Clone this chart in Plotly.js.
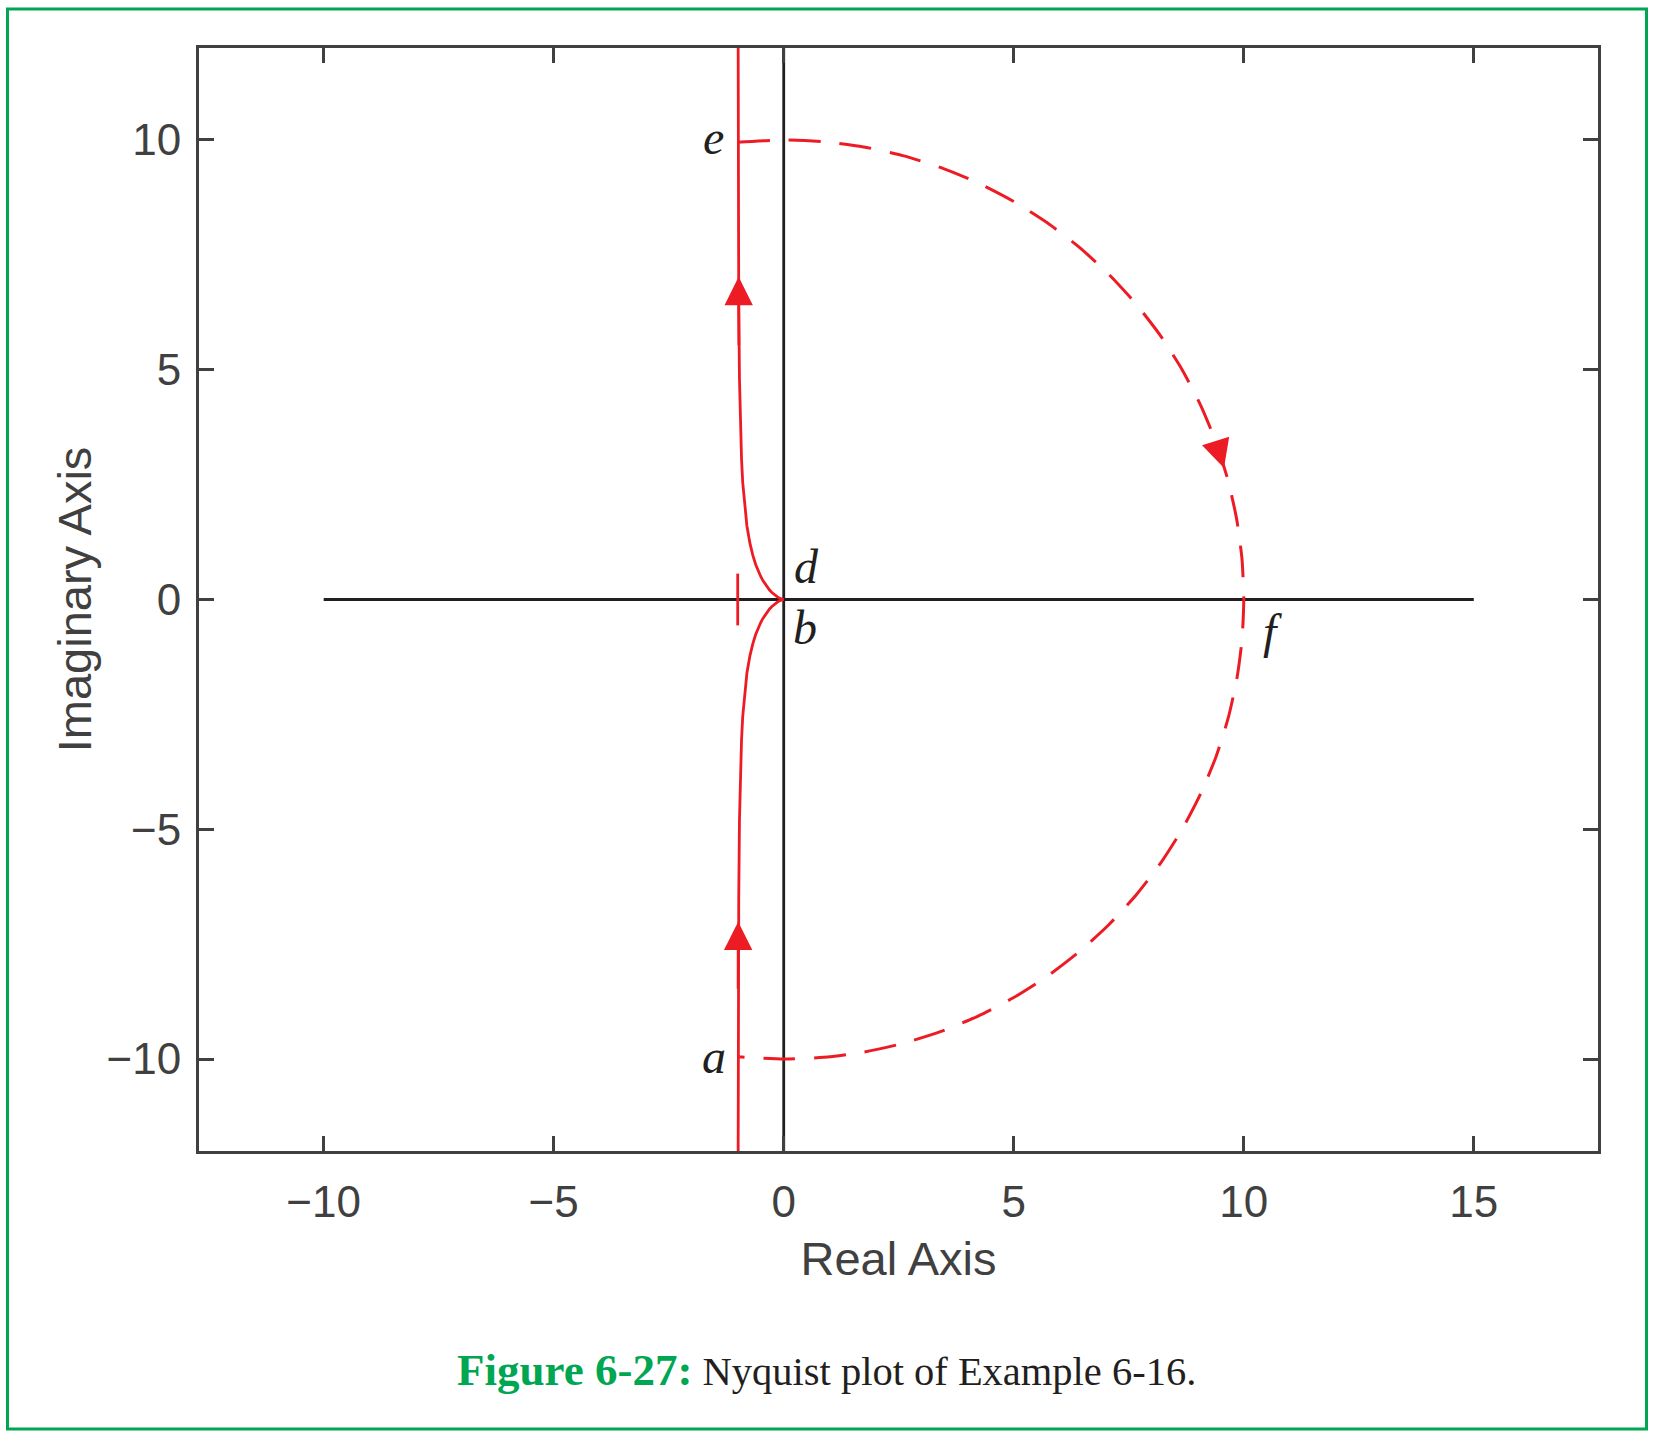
<!DOCTYPE html>
<html>
<head>
<meta charset="utf-8">
<script src="https://cdn.plot.ly/plotly-3.0.1.min.js"></script>
<style>
  html, body { margin: 0; padding: 0; background: #ffffff; }
  #chart { width: 1656px; height: 1437px; }
</style>
</head>
<body>
<div id="chart"></div>
<script>
// ---- data ----
// upper branch (negative frequencies): from d (origin) up towards e
const upperX = [0, -0.0385, -0.0588, -0.100, -0.138, -0.200, -0.257, -0.308, -0.372, -0.452, -0.500, -0.552, -0.610, -0.671, -0.735, -0.800, -0.862, -0.891, -0.917, -0.941, -0.962, -0.978, -0.986, -0.990, -0.994, -0.995];
const upperY = [0, 0.0077, 0.0147, 0.0333, 0.0552, 0.100, 0.151, 0.205, 0.286, 0.411, 0.500, 0.614, 0.762, 0.959, 1.225, 1.600, 2.155, 2.545, 3.058, 3.765, 4.808, 6.520, 8.215, 9.901, 12.42, 14.22];
// lower branch (positive frequencies): from a (bottom) to b (origin)
const lowerX = [0, -0.0385, -0.0588, -0.100, -0.138, -0.200, -0.257, -0.308, -0.372, -0.452, -0.500, -0.552, -0.610, -0.671, -0.735, -0.800, -0.862, -0.891, -0.917, -0.941, -0.962, -0.978, -0.986, -0.990, -0.994, -0.995];
const lowerY = [0, -0.0077, -0.0147, -0.0333, -0.0552, -0.100, -0.151, -0.205, -0.286, -0.411, -0.500, -0.614, -0.762, -0.959, -1.225, -1.600, -2.155, -2.545, -3.058, -3.765, -4.808, -6.520, -8.215, -9.901, -12.42, -14.22];
// large dashed arc e -> f -> a
const arcX = [-1.0, 0, 0.872, 1.736, 2.588, 3.420, 4.226, 5.000, 5.736, 6.428, 7.071, 7.660, 8.192, 8.660, 9.063, 9.397, 9.659, 9.848, 9.962, 10.0,
              9.962, 9.848, 9.659, 9.397, 9.063, 8.660, 8.192, 7.660, 7.071, 6.428, 5.736, 5.000, 4.226, 3.420, 2.588, 1.736, 0.872, 0, -1.0];
const arcY = [9.95, 10.0, 9.962, 9.848, 9.659, 9.397, 9.063, 8.660, 8.192, 7.660, 7.071, 6.428, 5.736, 5.000, 4.226, 3.420, 2.588, 1.736, 0.872, 0,
              -0.872, -1.736, -2.588, -3.420, -4.226, -5.000, -5.736, -6.428, -7.071, -7.660, -8.192, -8.660, -9.063, -9.397, -9.659, -9.848, -9.962, -10.0, -9.95];
// black reference axes drawn inside the plot
const realAxisX = [-10, 15];
const realAxisY = [0, 0];
const imagAxisX = [0, 0];
const imagAxisY = [-12, 12];
// critical point -1 + j0
const critX = [-1];
const critY = [0];
// direction arrows: tip and tail
const arrowTipX = [-0.98, -0.99, 9.57];
const arrowTipY = [7.02, -7.01, 2.86];
const arrowTailX = [-0.975, -0.992, 9.45];
const arrowTailY = [5.5, -8.5, 3.25];
// point labels
const labelText = ['e', 'd', 'b', 'f', 'a'];
const labelX = [-1.52, 0.5, 0.46, 10.63, -1.52];
const labelY = [10.05, 0.72, -0.62, -0.70, -9.95];
// ticks
const xTickVals = [-10, -5, 0, 5, 10, 15];
const xTickText = ['\u221210', '\u22125', '0', '5', '10', '15'];
const yTickVals = [-10, -5, 0, 5, 10];
const yTickText = ['\u221210', '\u22125', '0', '5', '10'];

// ---- styles ----
const RED = '#ed1c24';
const BLACK = '#231f20';
const AXC = '#404040';
const GREEN = '#00a651';

const traces = [
  {x: realAxisX, y: realAxisY, mode: 'lines', line: {color: BLACK, width: 2.8}, hoverinfo: 'skip'},
  {x: imagAxisX, y: imagAxisY, mode: 'lines', line: {color: BLACK, width: 2.8}, hoverinfo: 'skip'},
  {x: critX, y: critY, mode: 'markers', marker: {symbol: 'line-ns', size: 37, line: {color: RED, width: 2.8}}, hoverinfo: 'skip'},
  {x: arcX, y: arcY, mode: 'lines', line: {color: RED, width: 3, dash: '32px,19px', shape: 'spline', smoothing: 0.6}, hoverinfo: 'skip'},
  {x: upperX, y: upperY, mode: 'lines', line: {color: RED, width: 2.8}, hoverinfo: 'skip'},
  {x: lowerX, y: lowerY, mode: 'lines', line: {color: RED, width: 2.8}, hoverinfo: 'skip'}
];

const annotations = [];
for (let i = 0; i < arrowTipX.length; i++) {
  annotations.push({
    x: arrowTipX[i], y: arrowTipY[i], ax: arrowTailX[i], ay: arrowTailY[i],
    xref: 'x', yref: 'y', axref: 'x', ayref: 'y',
    text: '', showarrow: true, arrowhead: 2, arrowsize: 2.1, arrowwidth: 2.7,
    arrowcolor: RED, standoff: 0
  });
}
for (let i = 0; i < labelText.length; i++) {
  annotations.push({
    x: labelX[i], y: labelY[i], xref: 'x', yref: 'y',
    text: '<i>' + labelText[i] + '</i>', showarrow: false,
    font: {family: 'Liberation Serif, serif', size: 48, color: BLACK},
    xanchor: 'center', yanchor: 'middle'
  });
}
// caption
const L = 199, R = 58, T = 48, B = 286, W = 1656, H = 1437;
const pw = W - L - R, ph = H - T - B;
annotations.push({
  xref: 'paper', yref: 'paper',
  x: (826 - L) / pw, y: (H - B - 1370) / ph,
  xanchor: 'center', yanchor: 'middle', showarrow: false,
  text: '<b><span style="color:' + GREEN + ';font-size:45px">Figure 6-27:</span></b> Nyquist plot of Example 6-16.',
  font: {family: 'Liberation Serif, serif', size: 40.5, color: '#231f20'}
});

const shapes = [{
  type: 'rect', xref: 'paper', yref: 'paper',
  x0: (7.5 - L) / pw, x1: (1646.5 - L) / pw,
  y0: (H - B - 1429) / ph, y1: (H - B - 9) / ph,
  line: {color: GREEN, width: 3}, fillcolor: 'rgba(0,0,0,0)', layer: 'below'
}];

const axisCommon = {
  showgrid: false, zeroline: false, showline: true, mirror: 'ticks',
  linecolor: AXC, linewidth: 3, ticks: 'inside', ticklen: 15, tickwidth: 3, tickcolor: AXC,
  tickfont: {family: 'Liberation Sans, Arial, sans-serif', size: 44, color: AXC},
  tickmode: 'array', fixedrange: true
};

const layout = {
  width: W, height: H,
  margin: {l: L, r: R, t: T, b: B, pad: 0},
  paper_bgcolor: '#ffffff', plot_bgcolor: '#ffffff',
  showlegend: false,
  xaxis: Object.assign({}, axisCommon, {
    range: [-12.71, 17.70], tickvals: xTickVals, ticktext: xTickText, ticklabelstandoff: 10,
    title: {text: 'Real Axis', font: {family: 'Liberation Sans, Arial, sans-serif', size: 47, color: AXC}, standoff: 18}
  }),
  yaxis: Object.assign({}, axisCommon, {
    range: [-12, 12], tickvals: yTickVals, ticktext: yTickText, ticklabelstandoff: 6,
    title: {text: 'Imaginary Axis', font: {family: 'Liberation Sans, Arial, sans-serif', size: 47, color: AXC}, standoff: 1}
  }),
  annotations: annotations,
  shapes: shapes
};

Plotly.newPlot('chart', traces, layout, {staticPlot: true, displayModeBar: false});
</script>
</body>
</html>
